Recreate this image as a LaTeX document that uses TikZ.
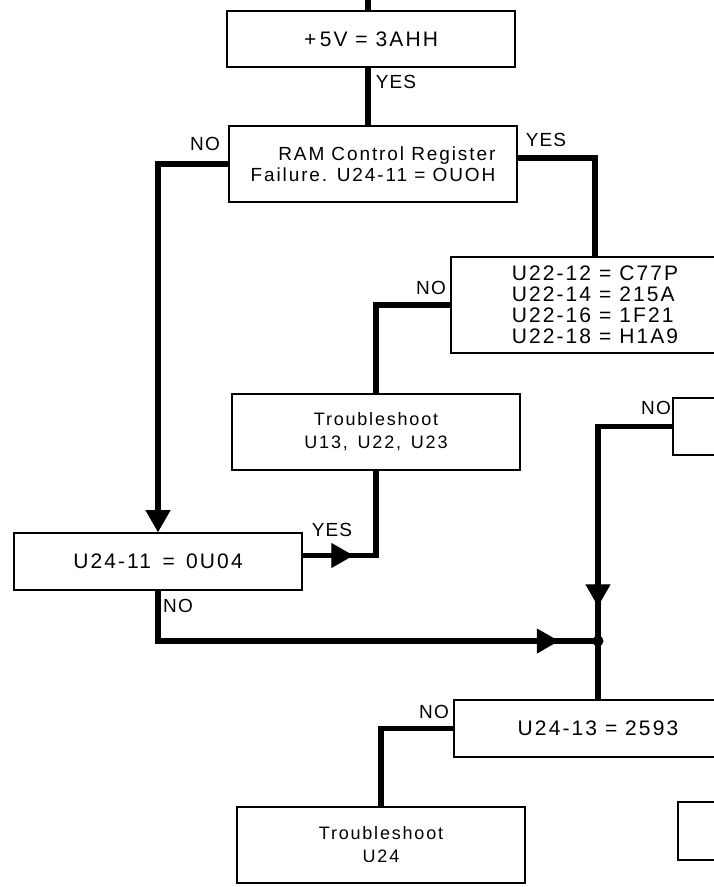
\documentclass[tikz,border=0pt]{standalone}
\usepackage{fontspec}
\setmainfont{Liberation Sans}
\newfontfamily\boxfont[LetterSpace=10]{Liberation Sans}
\newfontfamily\labfont[LetterSpace=6]{Liberation Sans}
\usetikzlibrary{arrows.meta, positioning, decorations.markings}
\tikzset{
  base box/.style={
    rectangle, draw, line width=1.7pt, minimum width=#1,
    inner sep=0pt, align=center
  },
  value box/.style={base box=288pt, minimum height=#1, font=\boxfont\fontsize{21}{21}\selectfont},
  note box/.style={base box=288pt, minimum height=#1, font=\boxfont\fontsize{19}{21}\selectfont},
  action box/.style={base box=288pt, minimum height=#1, font=\boxfont\fontsize{18}{23}\selectfont},
  lab/.style={font=\labfont\fontsize{19}{20}\selectfont, inner sep=0pt},
  flow/.style={line width=5.5pt},
  endtip/.style={-{Triangle[length=22pt, width=25pt, line width=1pt]}},
  midtip/.style={postaction={decorate}, decoration={markings,
    mark=at position #1 with {\arrow{Triangle[length=22pt, width=25pt, line width=1pt]}}}},
  junction/.style={circle, fill, inner sep=0pt, minimum size=11pt},
}

\begin{document}
\begin{tikzpicture}[x=1pt, y=-1pt]
  \useasboundingbox (0,0) rectangle (714,887);
  \clip (0,0) rectangle (714,887);

  \node[value box=56pt] (pwr) at (371,39) {+\,5V = 3AHH};
  \node[note box=76pt, align=right] (ram) at (373,164)
    {RAM Control Register\\Failure. U24-11 = OUOH};
  \node[value box=96pt, align=left] (ctrl) at (595,305)
    {U22-12 = C77P\\U22-14 = 215A\\U22-16 = 1F21\\U22-18 = H1A9};
  \node[action box=76pt] (trbA) at (376,432) {Troubleshoot\\U13,\ \,U22,\ \,U23};
  \node[value box=57pt] (nxt) at (817,426.5) {};
  \node[value box=57pt] (chk) at (158,561.5) {U24-11\ \,=\ \,0U04};
  \node[value box=57pt] (sig) at (598,728.5) {U24-13 = 2593};
  \node[action box=76pt] (trbB) at (381,845) {Troubleshoot\\U24};
  \node[value box=58pt] (end) at (822,831) {};

  \coordinate (feed) at (368,0);
  \coordinate (jn) at (598,641);

  % labels
  \node[lab] (yesA) at (396,82) {YES};
  \node[lab] (noA) at (205,144) {NO};
  \node[lab] (yesB) at (546,140) {YES};
  \node[lab] (noB) at (431,288) {NO};
  \node[lab] (noC) at (656,408) {NO};
  \node[lab] (yesC) at (332,530) {YES};
  \node[lab] (noD) at (178,606) {NO};
  \node[lab] (noE) at (434,712) {NO};

  % connectors
  \draw[flow] (feed) -- (feed |- pwr.north);
  \draw[flow] (pwr.south -| feed) -- (ram.north -| feed);
  \draw[flow, endtip] (ram.west) -| (chk.north);
  \draw[flow] ([yshift=6pt]ram.east) -| (ctrl.north);
  \draw[flow] (ctrl.west) -| (trbA.north);
  \draw[flow, midtip=0.32] ([yshift=6pt]chk.east) -| (trbA.south);
  \draw[flow, midtip=0.92] (chk.south) |- (jn);
  \draw[flow, midtip=0.88] (nxt.west) -| (jn);
  \draw[flow] (jn) -- (sig.north);
  \draw[flow] (sig.west) -| (trbB.north);
  \node[junction] (dot) at (jn) {};
\end{tikzpicture}
\end{document}
